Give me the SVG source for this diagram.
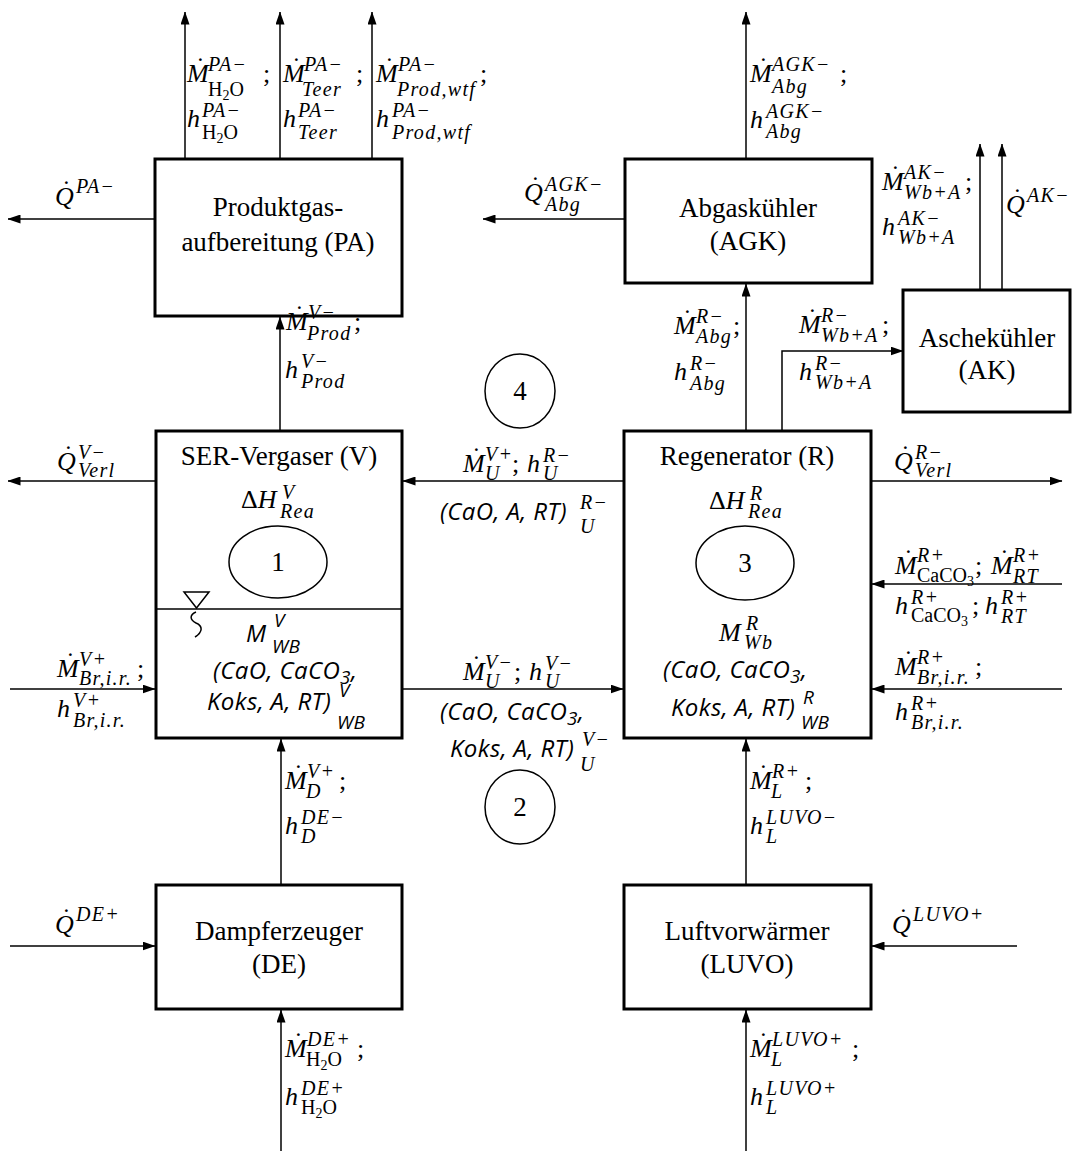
<svg xmlns="http://www.w3.org/2000/svg" width="1076" height="1151" viewBox="0 0 1076 1151">
<defs>
<marker id="ah" markerWidth="13" markerHeight="9" refX="12.5" refY="4.5" orient="auto" markerUnits="userSpaceOnUse">
<path d="M0,0 L13,4.5 L0,9 z" fill="#000"/>
</marker>
<style>
.box{fill:#fff;stroke:#000;stroke-width:3}
.cn{fill:none;stroke:#000;stroke-width:1.5;marker-end:url(#ah)}
.ln{fill:none;stroke:#000;stroke-width:1.5}
.el{fill:none;stroke:#000;stroke-width:1.5}
.tc{font-family:"Liberation Serif",serif;font-size:27px;text-anchor:middle}
.m{font-family:"Liberation Serif",serif;font-size:26px;font-style:italic}
.p{font-family:"Liberation Serif",serif;font-size:26px;font-style:normal}
.d{font-family:"Liberation Serif",serif;font-size:26px;font-style:normal}
.s{font-family:"Liberation Serif",serif;font-size:20px;font-style:italic;letter-spacing:1.3px}
.u{font-family:"Liberation Serif",serif;font-size:20px;font-style:normal}
.v{font-size:14px}
.c{font-family:"Open Sans",sans-serif;font-size:24px;font-style:italic;letter-spacing:0.4px}
.cs{font-family:"Open Sans",sans-serif;font-size:19px;font-style:italic}
</style>
</defs>
<rect width="1076" height="1151" fill="#fff"/>

<g id="connectors">
<path class="cn" d="M185,159 L185,12"/>
<path class="cn" d="M280,159 L280,12"/>
<path class="cn" d="M372,159 L372,12"/>
<path class="cn" d="M746,159 L746,12"/>
<path class="cn" d="M155,219 L8,219"/>
<path class="cn" d="M625,219 L483,219"/>
<path class="cn" d="M980,290 L980,144"/>
<path class="cn" d="M1002,290 L1002,144"/>
<path class="cn" d="M280,431 L280,317"/>
<path class="cn" d="M746,431 L746,284"/>
<path class="cn" d="M782,431 L782,351 L903,351"/>
<path class="cn" d="M156,481 L8,481"/>
<path class="cn" d="M624,481 L403,481"/>
<path class="cn" d="M871,481 L1062,481"/>
<path class="cn" d="M1062,584 L872,584"/>
<path class="cn" d="M10,689 L155,689"/>
<path class="cn" d="M402,689 L623,689"/>
<path class="cn" d="M1062,689 L872,689"/>
<path class="cn" d="M281,885 L281,739"/>
<path class="cn" d="M746,885 L746,739"/>
<path class="cn" d="M10,946 L155,946"/>
<path class="cn" d="M1017,946 L872,946"/>
<path class="cn" d="M281,1151 L281,1010"/>
<path class="cn" d="M746,1151 L746,1010"/>
</g>

<g id="PA">
<rect class="box" x="155" y="159" width="247" height="157"/>
<text class="tc" x="278" y="216">Produktgas-</text>
<text class="tc" x="278" y="251">aufbereitung (PA)</text>
</g>

<g id="AGK">
<rect class="box" x="625" y="159" width="247" height="124"/>
<text class="tc" x="748" y="217">Abgaskühler</text>
<text class="tc" x="748" y="250">(AGK)</text>
</g>

<g id="AK">
<rect class="box" x="903" y="290" width="167" height="122"/>
<text class="tc" x="987" y="347">Aschekühler</text>
<text class="tc" x="987" y="379">(AK)</text>
</g>

<g id="V">
<rect class="box" x="156" y="431" width="246" height="307"/>
<path class="ln" d="M156,609 L402,609"/>
<text class="tc" x="279" y="465">SER-Vergaser (V)</text>
<text class="m"><tspan class="p" x="241" y="508">Δ</tspan><tspan>H</tspan><tspan class="s" x="282" y="499">V</tspan><tspan class="s" x="280" y="518">Rea</tspan></text>
<path d="M184,592 L209,592 L196.5,608 z" fill="#fff" stroke="#000" stroke-width="1.5"/>
<path class="ln" d="M196,612 C189,615 190,620 196,623 C203,626 203,632 195,637"/>
<text class="c"><tspan x="246" y="642">M</tspan><tspan class="cs" x="274" y="627">V</tspan><tspan class="cs" x="272" y="653">WB</tspan></text>
<text class="c" x="213" y="679">(CaO, CaCO<tspan class="cs" dy="5">3</tspan><tspan dy="-5">,</tspan></text>
<text class="c"><tspan x="207" y="710">Koks, A, RT)</tspan><tspan class="cs" x="339" y="697">V</tspan><tspan class="cs" x="337" y="729">WB</tspan></text>
</g>

<g id="R">
<rect class="box" x="624" y="431" width="247" height="307"/>
<text class="tc" x="747" y="465">Regenerator (R)</text>
<text class="m"><tspan class="p" x="709" y="509">Δ</tspan><tspan>H</tspan><tspan class="s" x="750" y="500">R</tspan><tspan class="s" x="748" y="518">Rea</tspan></text>
<text class="m"><tspan x="719" y="641">M</tspan><tspan class="s" x="746" y="630">R</tspan><tspan class="s" x="744" y="649">Wb</tspan></text>
<text class="c" x="663" y="678">(CaO, CaCO<tspan class="cs" dy="5">3</tspan><tspan dy="-5">,</tspan></text>
<text class="c"><tspan x="671" y="716">Koks, A, RT)</tspan><tspan class="cs" x="803" y="704">R</tspan><tspan class="cs" x="801" y="729">WB</tspan></text>
</g>

<g id="DE">
<rect class="box" x="156" y="885" width="246" height="124"/>
<text class="tc" x="279" y="940">Dampferzeuger</text>
<text class="tc" x="279" y="973">(DE)</text>
</g>

<g id="LUVO">
<rect class="box" x="624" y="885" width="247" height="124"/>
<text class="tc" x="747" y="940">Luftvorwärmer</text>
<text class="tc" x="747" y="973">(LUVO)</text>
</g>

<g id="balance-regions">
<ellipse class="el" cx="278" cy="562" rx="49" ry="36"/>
<text class="tc" x="278" y="571">1</text>
<ellipse class="el" cx="520" cy="807" rx="35" ry="37"/>
<text class="tc" x="520" y="816">2</text>
<ellipse class="el" cx="745" cy="563" rx="49" ry="37"/>
<text class="tc" x="745" y="572">3</text>
<ellipse class="el" cx="520" cy="391" rx="35" ry="37"/>
<text class="tc" x="520" y="400">4</text>
</g>

<g id="labels">
<!-- PA outputs -->
<text class="m"><tspan x="187" y="82">M</tspan><tspan class="d" x="196" y="75">˙</tspan><tspan class="s" x="208" y="71">PA−</tspan><tspan class="u" x="208" y="96">H<tspan class="v" dy="4">2</tspan><tspan dy="-4">O</tspan></tspan><tspan class="p" x="263" y="82">;</tspan></text>
<text class="m"><tspan x="187" y="127">h</tspan><tspan class="s" x="202" y="117">PA−</tspan><tspan class="u" x="202" y="139">H<tspan class="v" dy="4">2</tspan><tspan dy="-4">O</tspan></tspan></text>
<text class="m"><tspan x="283" y="82">M</tspan><tspan class="d" x="292" y="75">˙</tspan><tspan class="s" x="304" y="71">PA−</tspan><tspan class="s" x="302" y="96">Teer</tspan><tspan class="p" x="356" y="82">;</tspan></text>
<text class="m"><tspan x="283" y="127">h</tspan><tspan class="s" x="298" y="117">PA−</tspan><tspan class="s" x="298" y="139">Teer</tspan></text>
<text class="m"><tspan x="376" y="82">M</tspan><tspan class="d" x="385" y="75">˙</tspan><tspan class="s" x="398" y="71">PA−</tspan><tspan class="s" x="397" y="96">Prod,wtf</tspan><tspan class="p" x="480" y="82">;</tspan></text>
<text class="m"><tspan x="376" y="127">h</tspan><tspan class="s" x="392" y="117">PA−</tspan><tspan class="s" x="392" y="139">Prod,wtf</tspan></text>
<text class="m"><tspan x="55" y="205">Q</tspan><tspan class="d" x="62" y="198">˙</tspan><tspan class="s" x="76" y="193">PA−</tspan></text>

<!-- AGK -->
<text class="m"><tspan x="750" y="82">M</tspan><tspan class="d" x="759" y="75">˙</tspan><tspan class="s" x="772" y="71">AGK−</tspan><tspan class="s" x="772" y="93">Abg</tspan><tspan class="p" x="840" y="82">;</tspan></text>
<text class="m"><tspan x="750" y="128">h</tspan><tspan class="s" x="766" y="118">AGK−</tspan><tspan class="s" x="766" y="138">Abg</tspan></text>
<text class="m"><tspan x="524" y="201">Q</tspan><tspan class="d" x="531" y="194">˙</tspan><tspan class="s" x="545" y="191">AGK−</tspan><tspan class="s" x="545" y="211">Abg</tspan></text>

<!-- AK -->
<text class="m"><tspan x="882" y="190">M</tspan><tspan class="d" x="891" y="183">˙</tspan><tspan class="s" x="904" y="179">AK−</tspan><tspan class="s" x="904" y="199">Wb+A</tspan><tspan class="p" x="965" y="190">;</tspan></text>
<text class="m"><tspan x="882" y="235">h</tspan><tspan class="s" x="898" y="225">AK−</tspan><tspan class="s" x="898" y="244">Wb+A</tspan></text>
<text class="m"><tspan x="1006" y="213">Q</tspan><tspan class="d" x="1013" y="206">˙</tspan><tspan class="s" x="1027" y="202">AK−</tspan></text>

<!-- R to AGK / AK -->
<text class="m"><tspan x="674" y="334">M</tspan><tspan class="d" x="683" y="327">˙</tspan><tspan class="s" x="696" y="323">R−</tspan><tspan class="s" x="696" y="343">Abg</tspan><tspan class="p" x="733" y="334">;</tspan></text>
<text class="m"><tspan x="674" y="380">h</tspan><tspan class="s" x="690" y="370">R−</tspan><tspan class="s" x="690" y="390">Abg</tspan></text>
<text class="m"><tspan x="799" y="333">M</tspan><tspan class="d" x="808" y="326">˙</tspan><tspan class="s" x="821" y="322">R−</tspan><tspan class="s" x="821" y="342">Wb+A</tspan><tspan class="p" x="882" y="333">;</tspan></text>
<text class="m"><tspan x="799" y="380">h</tspan><tspan class="s" x="815" y="370">R−</tspan><tspan class="s" x="815" y="389">Wb+A</tspan></text>

<!-- V to PA -->
<text class="m"><tspan x="286" y="330">M</tspan><tspan class="d" x="295" y="323">˙</tspan><tspan class="s" x="308" y="319">V−</tspan><tspan class="s" x="307" y="340">Prod</tspan><tspan class="p" x="354" y="330">;</tspan></text>
<text class="m"><tspan x="285" y="378">h</tspan><tspan class="s" x="301" y="368">V−</tspan><tspan class="s" x="301" y="388">Prod</tspan></text>

<!-- heat losses -->
<text class="m"><tspan x="57" y="470">Q</tspan><tspan class="d" x="64" y="463">˙</tspan><tspan class="s" x="78" y="459">V−</tspan><tspan class="s" x="78" y="477">Verl</tspan></text>
<text class="m"><tspan x="894" y="470">Q</tspan><tspan class="d" x="901" y="463">˙</tspan><tspan class="s" x="915" y="459">R−</tspan><tspan class="s" x="915" y="477">Verl</tspan></text>

<!-- R to V -->
<text class="m"><tspan x="463" y="472">M</tspan><tspan class="d" x="472" y="465">˙</tspan><tspan class="s" x="485" y="461">V+</tspan><tspan class="s" x="485" y="480">U</tspan><tspan class="p" x="512" y="472">;</tspan><tspan x="527" y="472">h</tspan><tspan class="s" x="543" y="462">R−</tspan><tspan class="s" x="543" y="480">U</tspan></text>
<text class="c"><tspan x="440" y="520">(CaO, A, RT)</tspan><tspan class="s" x="580" y="509">R−</tspan><tspan class="s" x="580" y="533">U</tspan></text>

<!-- V to R -->
<text class="m"><tspan x="463" y="680">M</tspan><tspan class="d" x="472" y="673">˙</tspan><tspan class="s" x="485" y="669">V−</tspan><tspan class="s" x="485" y="688">U</tspan><tspan class="p" x="514" y="680">;</tspan><tspan x="529" y="680">h</tspan><tspan class="s" x="545" y="670">V−</tspan><tspan class="s" x="545" y="688">U</tspan></text>
<text class="c" x="440" y="720">(CaO, CaCO<tspan class="cs" dy="5">3</tspan><tspan dy="-5">,</tspan></text>
<text class="c"><tspan x="450" y="757">Koks, A, RT)</tspan><tspan class="s" x="582" y="746">V−</tspan><tspan class="s" x="580" y="771">U</tspan></text>

<!-- right inputs R -->
<text class="m"><tspan x="895" y="574">M</tspan><tspan class="d" x="904" y="567">˙</tspan><tspan class="s" x="917" y="562">R+</tspan><tspan class="u" x="917" y="582">CaCO<tspan class="v" dy="4">3</tspan></tspan><tspan class="p" x="975" y="574">;</tspan><tspan x="991" y="574">M</tspan><tspan class="d" x="1000" y="567">˙</tspan><tspan class="s" x="1013" y="562">R+</tspan><tspan class="s" x="1013" y="583">RT</tspan></text>
<text class="m"><tspan x="895" y="614">h</tspan><tspan class="s" x="911" y="604">R+</tspan><tspan class="u" x="911" y="622">CaCO<tspan class="v" dy="4">3</tspan></tspan><tspan class="p" x="972" y="614">;</tspan><tspan x="985" y="614">h</tspan><tspan class="s" x="1001" y="604">R+</tspan><tspan class="s" x="1001" y="623">RT</tspan></text>
<text class="m"><tspan x="895" y="675">M</tspan><tspan class="d" x="904" y="668">˙</tspan><tspan class="s" x="917" y="664">R+</tspan><tspan class="s" x="917" y="684">Br,i.r.</tspan><tspan class="p" x="975" y="675">;</tspan></text>
<text class="m"><tspan x="895" y="720">h</tspan><tspan class="s" x="911" y="710">R+</tspan><tspan class="s" x="911" y="729">Br,i.r.</tspan></text>

<!-- left inputs V -->
<text class="m"><tspan x="57" y="677">M</tspan><tspan class="d" x="66" y="670">˙</tspan><tspan class="s" x="79" y="666">V+</tspan><tspan class="s" x="79" y="685">Br,i.r.</tspan><tspan class="p" x="137" y="677">;</tspan></text>
<text class="m"><tspan x="57" y="717">h</tspan><tspan class="s" x="73" y="707">V+</tspan><tspan class="s" x="73" y="727">Br,i.r.</tspan></text>

<!-- DE to V / LUVO to R -->
<text class="m"><tspan x="285" y="789">M</tspan><tspan class="d" x="294" y="782">˙</tspan><tspan class="s" x="307" y="778">V+</tspan><tspan class="s" x="306" y="798">D</tspan><tspan class="p" x="339" y="789">;</tspan></text>
<text class="m"><tspan x="285" y="834">h</tspan><tspan class="s" x="301" y="824">DE−</tspan><tspan class="s" x="301" y="843">D</tspan></text>
<text class="m"><tspan x="750" y="789">M</tspan><tspan class="d" x="759" y="782">˙</tspan><tspan class="s" x="772" y="778">R+</tspan><tspan class="s" x="771" y="798">L</tspan><tspan class="p" x="805" y="789">;</tspan></text>
<text class="m"><tspan x="750" y="834">h</tspan><tspan class="s" x="766" y="824">LUVO−</tspan><tspan class="s" x="766" y="843">L</tspan></text>

<!-- heat inputs -->
<text class="m"><tspan x="55" y="933">Q</tspan><tspan class="d" x="62" y="926">˙</tspan><tspan class="s" x="76" y="921">DE+</tspan></text>
<text class="m"><tspan x="892" y="933">Q</tspan><tspan class="d" x="899" y="926">˙</tspan><tspan class="s" x="913" y="921">LUVO+</tspan></text>

<!-- feeds -->
<text class="m"><tspan x="285" y="1057">M</tspan><tspan class="d" x="294" y="1050">˙</tspan><tspan class="s" x="307" y="1046">DE+</tspan><tspan class="u" x="306" y="1066">H<tspan class="v" dy="4">2</tspan><tspan dy="-4">O</tspan></tspan><tspan class="p" x="357" y="1057">;</tspan></text>
<text class="m"><tspan x="285" y="1105">h</tspan><tspan class="s" x="301" y="1095">DE+</tspan><tspan class="u" x="301" y="1114">H<tspan class="v" dy="4">2</tspan><tspan dy="-4">O</tspan></tspan></text>
<text class="m"><tspan x="750" y="1057">M</tspan><tspan class="d" x="759" y="1050">˙</tspan><tspan class="s" x="772" y="1046">LUVO+</tspan><tspan class="s" x="771" y="1066">L</tspan><tspan class="p" x="852" y="1057">;</tspan></text>
<text class="m"><tspan x="750" y="1105">h</tspan><tspan class="s" x="766" y="1095">LUVO+</tspan><tspan class="s" x="766" y="1114">L</tspan></text>
</g>
</svg>
